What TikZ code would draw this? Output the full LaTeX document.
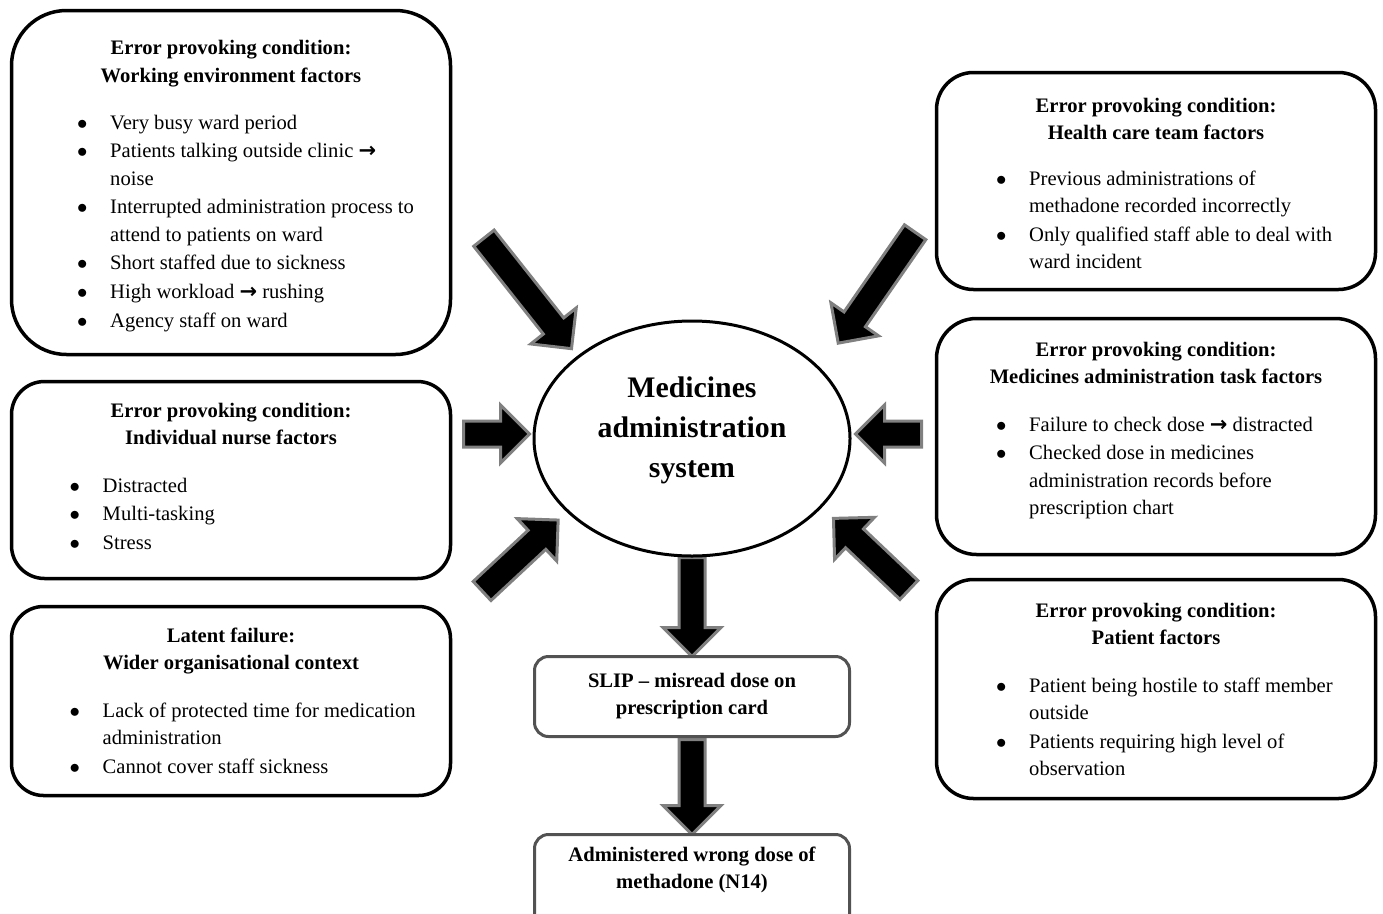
\documentclass[tikz,border=0pt]{standalone}
\usepackage{fontspec}
\setmainfont{Liberation Serif}
\newfontfamily\symf{DejaVu Sans}
\usetikzlibrary{shapes.geometric,shapes.arrows}
\newcommand\rarr{{\symf\bfseries\fontsize{21}{20}\selectfont →}}
\newcommand\bul{\makebox[33pt][l]{$\bullet$}}
\newcommand\ind{\hspace*{33pt}}
\begin{document}
\begin{tikzpicture}[x=1pt,y=-1pt,
  box/.style={draw=black, line width=3.5pt, rectangle, fill=white, inner sep=0pt, minimum width=439pt},
  flowbox/.style={draw=black!68, line width=3pt, rectangle, rounded corners=14pt, fill=white, inner sep=0pt, minimum width=315pt},
  ttl/.style={font=\fontsize{20.6}{27.2}\selectfont\bfseries, align=center, inner sep=0pt, anchor=base},
  lst/.style={font=\fontsize{20.6}{27.2}\selectfont, align=left, inner sep=0pt, anchor=base west},
  blk/.style={single arrow, draw=black!50, fill=black, line width=3pt, inner xsep=0pt, inner ysep=11.5pt, single arrow head extend=16pt, anchor=tail, minimum width=0pt},
]
\useasboundingbox (0,0) rectangle (1383,913);
\clip (0,0) rectangle (1383,913);

% block arrows
\node[blk, rotate=-51.6, minimum height=141pt] (a1) at (483,237) {};
\node[blk, rotate=-124.75, minimum height=135pt] (a2) at (916,231) {};
\node[blk, rotate=0, minimum height=66pt] (a3) at (462,434) {};
\node[blk, rotate=180, minimum height=66pt] (a4) at (923,434) {};
\node[blk, rotate=43, minimum height=104pt] (a5) at (481,592) {};
\node[blk, rotate=136.5, minimum height=104pt] (a6) at (910,591) {};
\node[blk, rotate=-90, minimum height=99pt] (a7) at (692,556) {};
\node[blk, rotate=-90, minimum height=95pt] (a8) at (692,738) {};

% central ellipse
\node[draw=black, line width=3pt, ellipse, fill=white, minimum width=316pt, minimum height=235pt, inner sep=0pt] (sys) at (692,438.5) {};
\node[font=\fontsize{29.8}{40}\selectfont\bfseries, align=center, inner sep=0pt, anchor=base] (syst) at (692,477) {Medicines\\administration\\system};

% left boxes
\node[box, rounded corners=55pt, minimum height=344pt] (b1) at (231,182.5) {};
\node[ttl] (t1) at (231,82) {Error provoking condition:\\Working environment factors};
\node[lst] (l1) at (77,327.4) {\bul Very busy ward period\\[1.6pt]
\bul Patients talking outside clinic \rarr\\
\ind noise\\[1.6pt]
\bul Interrupted administration process to\\
\ind attend to patients on ward\\[1.6pt]
\bul Short staffed due to sickness\\[1.6pt]
\bul High workload \rarr{} rushing\\[1.6pt]
\bul Agency staff on ward};

\node[box, rounded corners=33pt, minimum height=197pt] (b2) at (231,480) {};
\node[ttl] (t2) at (231,444.2) {Error provoking condition:\\Individual nurse factors};
\node[lst] (l2) at (69.5,549.6) {\bul Distracted\\[1.6pt]
\bul Multi-tasking\\[1.6pt]
\bul Stress};

\node[box, rounded corners=32pt, minimum height=189pt] (b3) at (231,701) {};
\node[ttl] (t3) at (231,669.2) {Latent failure:\\Wider organisational context};
\node[lst] (l3) at (69.5,773) {\bul Lack of protected time for medication\\
\ind administration\\[1.6pt]
\bul Cannot cover staff sickness};

% right boxes
\node[box, rounded corners=37pt, minimum height=217pt] (b4) at (1156,181) {};
\node[ttl] (t4) at (1156,139.2) {Error provoking condition:\\Health care team factors};
\node[lst] (l4) at (996,268.2) {\bul Previous administrations of\\
\ind methadone recorded incorrectly\\[1.6pt]
\bul Only qualified staff able to deal with\\
\ind ward incident};

\node[box, rounded corners=40pt, minimum height=236pt] (b5) at (1156,436.5) {};
\node[ttl] (t5) at (1156,383.2) {Error provoking condition:\\Medicines administration task factors};
\node[lst] (l5) at (996,514.2) {\bul Failure to check dose \rarr{} distracted\\[1.6pt]
\bul Checked dose in medicines\\
\ind administration records before\\
\ind prescription chart};

\node[box, rounded corners=37pt, minimum height=219pt] (b6) at (1156,689) {};
\node[ttl] (t6) at (1156,644.2) {Error provoking condition:\\Patient factors};
\node[lst] (l6) at (996,775.2) {\bul Patient being hostile to staff member\\
\ind outside\\[1.6pt]
\bul Patients requiring high level of\\
\ind observation};

% flow boxes
\node[flowbox, minimum height=80pt] (slip) at (692,696.5) {};
\node[ttl] (slipt) at (692,714.2) {SLIP -- misread dose on\\prescription card};
\node[flowbox, minimum height=95pt] (res) at (692,882) {};
\node[ttl] (rest) at (692,888.2) {Administered wrong dose of\\methadone (N14)};
\end{tikzpicture}
\end{document}
